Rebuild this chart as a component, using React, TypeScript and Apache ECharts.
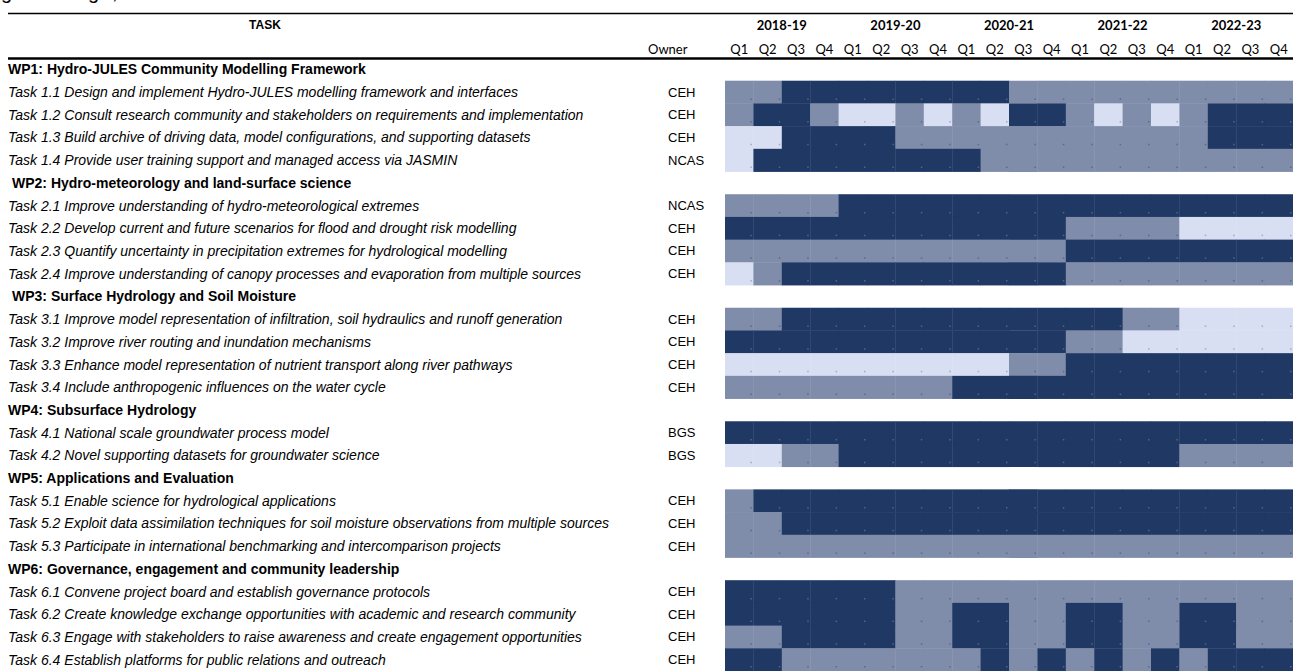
import React, { useEffect, useRef } from "react";
import * as echarts from "echarts";

const quarters = ["Q1", "Q2", "Q3", "Q4", "Q1", "Q2", "Q3", "Q4", "Q1", "Q2", "Q3", "Q4", "Q1", "Q2", "Q3", "Q4", "Q1", "Q2", "Q3", "Q4"];
const years = ["2018-19", "2019-20", "2020-21", "2021-22", "2022-23"];

const taskLabels = [
  "WP1: Hydro-JULES Community Modelling Framework",
  "Task 1.1 Design and implement Hydro-JULES modelling framework and interfaces",
  "Task 1.2 Consult research community and stakeholders on requirements and implementation",
  "Task 1.3 Build archive of driving data, model configurations, and supporting datasets",
  "Task 1.4 Provide user training support and managed access via JASMIN",
  " WP2: Hydro-meteorology and land-surface science",
  "Task 2.1 Improve understanding of hydro-meteorological extremes",
  "Task 2.2 Develop current and future scenarios for flood and drought risk modelling",
  "Task 2.3 Quantify uncertainty in precipitation extremes for hydrological modelling",
  "Task 2.4 Improve understanding of canopy processes and evaporation from multiple sources",
  " WP3: Surface Hydrology and Soil Moisture",
  "Task 3.1 Improve model representation of infiltration, soil hydraulics and runoff generation",
  "Task 3.2 Improve river routing and inundation mechanisms",
  "Task 3.3 Enhance model representation of nutrient transport along river pathways",
  "Task 3.4 Include anthropogenic influences on the water cycle",
  "WP4: Subsurface Hydrology",
  "Task 4.1 National scale groundwater process model",
  "Task 4.2 Novel supporting datasets for groundwater science",
  "WP5: Applications and Evaluation",
  "Task 5.1 Enable science for hydrological applications",
  "Task 5.2 Exploit data assimilation techniques for soil moisture observations from multiple sources",
  "Task 5.3 Participate in international benchmarking and intercomparison projects",
  "WP6: Governance, engagement and community leadership",
  "Task 6.1 Convene project board and establish governance protocols",
  "Task 6.2 Create knowledge exchange opportunities with academic and research community",
  "Task 6.3 Engage with stakeholders to raise awareness and create engagement opportunities",
  "Task 6.4 Establish platforms for public relations and outreach",
];

const owners = [
  "", "CEH", "CEH", "CEH", "NCAS",
  "", "NCAS", "CEH", "CEH", "CEH",
  "", "CEH", "CEH", "CEH", "CEH",
  "", "BGS", "BGS",
  "", "CEH", "CEH", "CEH",
  "", "CEH", "CEH", "CEH", "CEH",
];

// D = dark (main activity), M = medium, L = light; one letter per quarter
const schedule = [
  "",
  "MMDDDDDDDDMMMMMMMMMM",
  "MDDMLLMLMLDDMLMLMDDD",
  "LLDDDDMMMMMMMMMMMDDD",
  "LDDDDDDDDMMMMMMMMMMM",
  "",
  "MMMMDDDDDDDDDDDDDDDD",
  "DDDDDDDDDDDDMMMMLLLL",
  "MMMMMMMMMMMMDDDDDDDD",
  "LMDDDDDDDDDDMMMMMMMM",
  "",
  "MMDDDDDDDDDDDDMMLLLL",
  "DDDDDDDDDDDDMMLLLLLL",
  "LLLLLLLLLLMMDDDDDDDD",
  "MMMMMMMMDDDDDDDDDDDD",
  "",
  "DDDDDDDDDDDDDDDDDDDD",
  "LLMMDDDDDDDDDDDDMMMM",
  "",
  "MDDDDDDDDDDDDDDDDDDD",
  "MMDDDDDDDDDDDDDDDDDD",
  "MMMMMMMMMMMMMMMMMMMM",
  "",
  "DDDDDDMMMMMMMMMMMMMM",
  "DDDDDDMMDDMMDDMMDDMM",
  "MMDDDDMMDDMMDDMMDDMM",
  "DDMMMMMMMDMDMDMDMDDD",
];

const levelColors: Record<string, string> = { D: "#203864", M: "#7F8CAA", L: "#D9DFF2" };
const dotColors: Record<string, string> = { D: "#56657F", M: "#5E6B88", L: "#A3ABC2" };

const cells: [number, number, string][] = [];
schedule.forEach((s, r) => {
  for (let c = 0; c < s.length; c++) cells.push([c, r, s[c]]);
});

const FONT = "'Liberation Sans', Arial, sans-serif";
const HFONT = "Lato, 'Open Sans', sans-serif";
const LABEL_SIZE = 14;

export default function App() {
  const ref = useRef<HTMLDivElement>(null);
  useEffect(() => {
    const chart = echarts.init(ref.current!, null, { renderer: "svg" });
    chart.setOption({
      animation: false,
      backgroundColor: "#ffffff",
      grid: { left: 725, top: 58, width: 569, height: 614, containLabel: false },
      xAxis: [
        {
          type: "category",
          data: quarters,
          position: "top",
          axisLine: { show: false },
          axisTick: { show: false },
          splitLine: { show: false },
          axisLabel: { interval: 0, margin: 3, color: "#000", fontFamily: HFONT, fontSize: 13 },
        },
        {
          type: "category",
          data: years,
          position: "top",
          offset: 24,
          axisLine: { show: false },
          axisTick: { show: false },
          splitLine: { show: false },
          axisLabel: { interval: 0, margin: 3, color: "#000", fontFamily: HFONT, fontSize: 13, fontWeight: "bold" },
        },
      ],
      yAxis: [
        {
          type: "category",
          data: taskLabels,
          inverse: true,
          position: "left",
          axisLine: { show: false },
          axisTick: { show: false },
          splitLine: { show: false },
          axisLabel: {
            interval: 0,
            align: "left",
            margin: 717,
            color: "#000",
            fontFamily: FONT,
            fontSize: LABEL_SIZE,
            formatter: (v: string) => (v.trim().startsWith("WP") ? (v.startsWith(" ") ? "{wpi|" + v.trim() + "}" : "{wp|" + v + "}") : "{task|" + v + "}"),
            rich: {
              wp: { fontFamily: FONT, fontSize: LABEL_SIZE, fontWeight: "bold", color: "#000" },
              wpi: { fontFamily: FONT, fontSize: LABEL_SIZE, fontWeight: "bold", color: "#000", padding: [0, 0, 0, 4] },
              task: { fontFamily: FONT, fontSize: LABEL_SIZE, fontStyle: "italic", color: "#000" },
            },
          },
        },
        {
          type: "category",
          data: owners,
          inverse: true,
          position: "left",
          axisLine: { show: false },
          axisTick: { show: false },
          splitLine: { show: false },
          axisLabel: { interval: 0, align: "left", margin: 57, color: "#000", fontFamily: FONT, fontSize: 13 },
        },
      ],
      series: [
        {
          type: "custom",
          xAxisIndex: 0,
          yAxisIndex: 0,
          data: cells,
          renderItem: (params: any, api: any) => {
            const col = api.value(0);
            const row = api.value(1);
            const lvl = cells[params.dataIndex][2];
            const p = api.coord([col, row]);
            const size = api.size([1, 1]);
            const x = p[0] - size[0] / 2;
            const y = p[1] - size[1] / 2;
            return {
              type: "group",
              children: [
                { type: "rect", shape: { x, y, width: size[0] + 0.4, height: size[1] + 0.4 }, style: { fill: levelColors[lvl] } },
                { type: "rect", shape: { x: x + size[0] - 3, y: y + size[1] - 5, width: 1.5, height: 1.5 }, style: { fill: dotColors[lvl] } },
              ],
            };
          },
        },
      ],
      graphic: [
        { type: "line", shape: { x1: 8, y1: 13.5, x2: 1293, y2: 13.5 }, style: { stroke: "#000", lineWidth: 1.3 } },
        { type: "line", shape: { x1: 8, y1: 58.5, x2: 1293, y2: 58.5 }, style: { stroke: "#000", lineWidth: 2.5 } },
        { type: "text", x: 265, y: 25, style: { text: "TASK", fill: "#000", font: "bold 12px " + FONT, align: "center", verticalAlign: "middle" } },
        { type: "text", x: 648, y: 49, style: { text: "Owner", fill: "#000", font: "13px " + HFONT, align: "left", verticalAlign: "middle" } },
        { type: "text", x: 1, y: 2, style: { text: "g", fill: "#000", font: "20px " + FONT, align: "left", verticalAlign: "bottom" } },
        { type: "text", x: 88, y: 2, style: { text: "g", fill: "#000", font: "20px " + FONT, align: "left", verticalAlign: "bottom" } },
        { type: "text", x: 112, y: 2, style: { text: ",", fill: "#000", font: "20px " + FONT, align: "left", verticalAlign: "bottom" } },
      ],
    });
    return () => chart.dispose();
  }, []);
  return (
    <div style={{ position: "fixed", left: 0, top: 0, width: 1293, height: 671, overflow: "hidden", background: "#fff" }}>
      <div ref={ref} style={{ width: 1293, height: 671 }} />
    </div>
  );
}
